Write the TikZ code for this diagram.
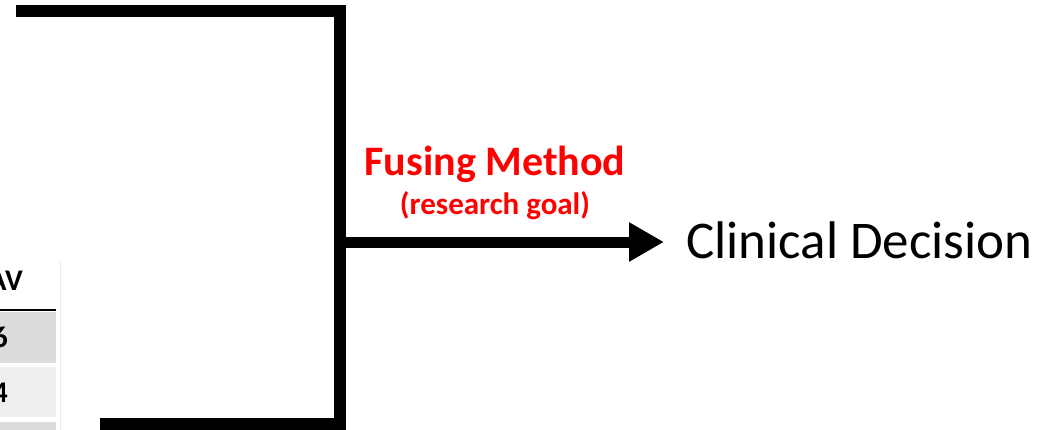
\documentclass[tikz,border=0pt]{standalone}
\usepackage{fontspec}
\setmainfont{Carlito}
\usepackage{tikz}
\usetikzlibrary{arrows.meta,positioning}

\definecolor{rowdark}{HTML}{DCDCDC}
\definecolor{rowlight}{HTML}{EFEFEF}
\definecolor{gridgray}{HTML}{EBEBEB}

\tikzset{
  bracket/.style={line width=12pt,miter limit=10,line join=miter},
  goal/.style={text=red,font=\bfseries,inner sep=0pt},
  cell/.style={font=\bfseries\fontsize{30}{33}\selectfont,inner sep=0pt,anchor=base east}
}

\begin{document}
\begin{tikzpicture}[x=1pt,y=-1pt]
    \useasboundingbox (0,0) rectangle (1041,429);
    \clip (0,0) rectangle (1041,429);

    % table fragment on the left
    \fill[rowdark] (0,312) rectangle (56,363);
    \fill[rowlight] (0,367) rectangle (56,417);
    \fill[rowdark] (0,422) rectangle (56,440);
    \draw[line width=2pt] (0,310) -- (56,310);
    \draw[gridgray,line width=1pt] (60,260) -- (60,440);
    \node[cell] (hdr) at (23,290) {AV};
    \node[cell] (v1) at (8,347) {6};
    \node[cell] (v2) at (8,402) {4};

    % bracket
    \coordinate (topL) at (16,11);
    \coordinate (topR) at (340,11);
    \coordinate (botR) at (340,424);
    \coordinate (botL) at (100,424);
    \coordinate (mid) at (334,242);
    \draw[bracket] (topL) -- (topR) -- (botR) -- (botL);

    \node[anchor=base west,inner sep=0pt,font=\fontsize{53}{56}\selectfont] (dec) at (686,258) {Clinical Decision};
    \draw[line width=11pt,shorten >=22pt,-{Triangle[length=35pt,width=37pt]}] (mid) -- (mid -| dec.west);

    \node[goal,font=\bfseries\fontsize{42}{46}\selectfont,anchor=base] (fuse) at (495,175) {Fusing Method};
    \node[goal,font=\bfseries\fontsize{31}{34}\selectfont,anchor=base] (rg) at (495,214) {(research goal)};
\end{tikzpicture}
\end{document}
